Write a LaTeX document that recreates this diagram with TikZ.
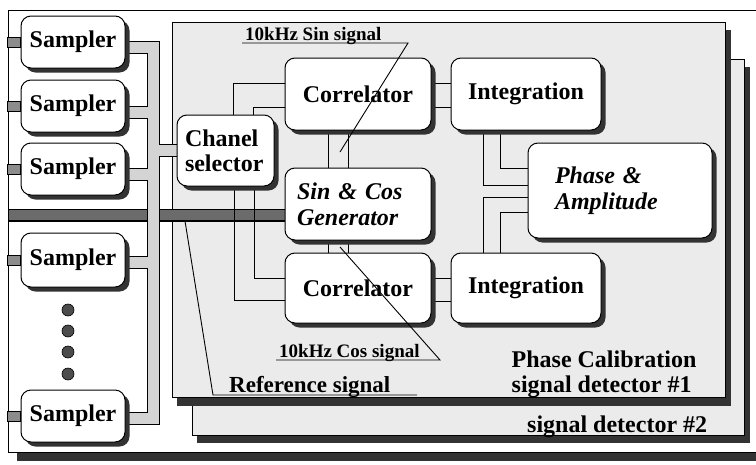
\documentclass[tikz,border=0pt]{standalone}
\usepackage{fontspec}
\setmainfont{Liberation Serif}
\usetikzlibrary{calc,shadows}
\pgfdeclarelayer{bg}
\pgfsetlayers{bg,main}
\begin{document}
\begin{tikzpicture}[x=1pt,y=-1pt,
  box/.style={draw=black, line width=1pt, fill=white, rounded corners=10pt,
    general shadow={fill=black!80, shadow xshift=4.5pt, shadow yshift=-4.5pt},
    font=\fontsize{24}{25}\selectfont\bfseries, inner sep=0pt, align=center},
  ibox/.style={box, font=\fontsize{24}{26}\selectfont\bfseries\itshape, align=left},
  wire/.style={draw=black, line width=0.9pt},
  lbl/.style={font=\fontsize{19}{20}\selectfont\bfseries, inner sep=0pt},
  biglbl/.style={font=\fontsize{24}{25}\selectfont\bfseries, inner sep=0pt},
  shadowfill/.style={fill=black!80},
  panel/.style={draw=black, line width=0.9pt, fill=black!8},
  stub/.style={draw=black, line width=0.5pt, fill=black!45},
  dot/.style={circle, draw=black, line width=0.6pt, fill=black!70, minimum size=12pt, inner sep=0pt},
  casing/.style={draw=black, line width=13pt, line join=miter},
  busfill/.style={draw=black!17, line width=11pt, line join=miter},
  barfill/.style={draw=black!58, line width=10.5pt, line join=miter},
]
\path[use as bounding box] (0,0) rectangle (756,464);
\begin{scope}
\clip (0,0) rectangle (756,464);

% ---------- boxes ----------
\node[box, minimum width=104pt, minimum height=52pt] (s1) at (73,42) {Sampler};
\node[box, minimum width=104pt, minimum height=52pt] (s2) at (73,106) {Sampler};
\node[box, minimum width=104pt, minimum height=52pt] (s3) at (73,169) {Sampler};
\node[box, minimum width=104pt, minimum height=54pt] (s4) at (73,260) {Sampler};
\node[box, minimum width=104pt, minimum height=52pt] (s5) at (73,416) {Sampler};

\node[dot] (d1) at (68,310) {};
\node[dot] (d2) at (68,331) {};
\node[dot] (d3) at (68,352) {};
\node[dot] (d4) at (68,374) {};

\node[box, minimum width=97pt, minimum height=71pt, align=left, text width=81pt] (ch) at (225.5,150.5) {Chanel\\selector};
\node[box, minimum width=146pt, minimum height=72pt] (c1) at (358,94) {Correlator};
\node[ibox, minimum width=146pt, minimum height=72pt, text width=122pt] (sc) at (358,204) {Sin \& Cos\\Generator};
\node[box, minimum width=146pt, minimum height=70pt] (c2) at (358,288) {Correlator};
\node[box, minimum width=150pt, minimum height=72pt] (i1) at (526,94) {Integration};
\node[box, minimum width=150pt, minimum height=70pt] (i2) at (526,288) {Integration};
\node[ibox, minimum width=184pt, minimum height=95pt, text width=130pt] (ph) at (620,190.5) {Phase \&\\Amplitude};

% ---------- background layer ----------
\begin{pgfonlayer}{bg}
  % outer frame
  \fill[shadowfill] (17,452) rectangle (770,461);
  \draw[line width=1pt, fill=white] (8,10) rectangle (770,452);
  % detector #2
  \fill[shadowfill] (197,67) rectangle (750,443);
  \draw[panel] (192,59) rectangle (744,435);
  % detector #1
  \fill[shadowfill] (177,30) rectangle (731,406);
  \draw[panel] (172,22) rectangle (725,397);

  % reference bar
  \coordinate (barL) at (8,215);
  \draw[casing] (barL) -- ($(sc.west)+(0,11)$);
  \draw[barfill] ($(barL)+(0.6,0)$) -- ($(sc.west)+(0,11)$);

  % sampler bus
  \coordinate (busT) at (153.5,47.5);
  \coordinate (busB) at (153.5,418.5);
  \foreach \c in {casing,busfill}{
    \draw[\c] ($(s1.east)+(-2,5.5)$) -| (busB) -- ($(s5.east)+(-2,2.5)$);
    \draw[\c] ($(s2.east)+(-2,6.5)$) -| (busT);
    \draw[\c] ($(s3.east)+(-2,5)$) -| (busT);
    \draw[\c] ($(s4.east)+(-2,2.5)$) -| (busT);
    \draw[\c] ($(ch.west)+(2,0)$) -| (busT);
  }

  % left stubs
  \foreach \s in {s1,s2,s3,s4,s5}{
    \draw[stub] ($(\s.west)+(-13,-5)$) rectangle ($(\s.west)+(0,5)$);
  }

  % thin wires
  \draw[wire] ($(ch.north)+(8,0)$) |- ($(c1.west)+(0,-11)$);
  \draw[wire] ($(ch.north)+(28,0)$) |- ($(c1.west)+(0,13)$);
  \draw[wire] ($(ch.south)+(9,0)$) |- ($(c2.west)+(0,12)$);
  \draw[wire] ($(ch.south)+(29,0)$) |- ($(c2.west)+(0,-10)$);

  \draw[wire] ($(c1.east)+(0,-11)$) -- ($(i1.west)+(0,-11)$);
  \draw[wire] ($(c1.east)+(0,13)$) -- ($(i1.west)+(0,13)$);
  \draw[wire] ($(c2.east)+(0,-10)$) -- ($(i2.west)+(0,-10)$);
  \draw[wire] ($(c2.east)+(0,13)$) -- ($(i2.west)+(0,13)$);

  \draw[wire] ($(c1.south)+(-30,0)$) -- ($(sc.north)+(-30,0)$);
  \draw[wire] ($(c1.south)+(-10,0)$) -- ($(sc.north)+(-10,0)$);
  \draw[wire] ($(sc.south)+(-30,0)$) -- ($(c2.north)+(-30,0)$);
  \draw[wire] ($(sc.south)+(-10,0)$) -- ($(c2.north)+(-10,0)$);

  \draw[wire] ($(i1.south)+(-43,0)$) |- ($(ph.west)+(0,-5.5)$);
  \draw[wire] ($(i1.south)+(-26,0)$) |- ($(ph.west)+(0,-22.5)$);
  \draw[wire] ($(i2.north)+(-43,0)$) |- ($(ph.west)+(0,6.5)$);
  \draw[wire] ($(i2.north)+(-26,0)$) |- ($(ph.west)+(0,21.5)$);
\end{pgfonlayer}

% ---------- labels ----------
\node[lbl, anchor=base west] (sinl) at (245,40) {10kHz Sin signal};
\coordinate (sinK) at (408,43);
\coordinate (sinE) at (340,152);
\draw[wire] ($(sinl.base west)+(-3,3)$) -- (sinK) -- (sinE);

\node[lbl, anchor=base west] (cosl) at (279,357) {10kHz Cos signal};
\coordinate (cosK) at (440,360);
\coordinate (cosE) at (340,247);
\draw[wire] ($(cosl.base west)+(-3,3)$) -- (cosK) -- (cosE);

\node[font=\fontsize{23}{24}\selectfont\bfseries, inner sep=0pt, anchor=base west] (refl) at (229,392) {Reference signal};
\coordinate (refK) at (417,395);
\coordinate (refS) at (213,395);
\coordinate (refE) at (185,221);
\draw[wire] (refK) -- (refS) -- (refE);

\node[biglbl, align=left] (pc1) at (604,374.5) {Phase Calibration\\signal detector \#1};
\node[biglbl, anchor=base west] (pc2) at (527,432) {signal detector \#2};

\end{scope}
\end{tikzpicture}
\end{document}
